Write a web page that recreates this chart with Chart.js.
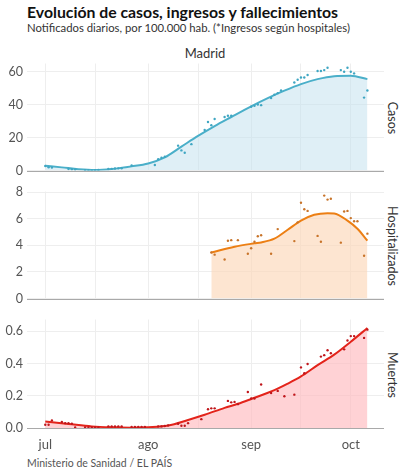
<!DOCTYPE html>
<html><head><meta charset="utf-8">
<script src="https://cdn.jsdelivr.net/npm/chart.js@4.4.1/dist/chart.umd.min.js"></script>
<style>
body{margin:0;background:#fff;width:414px;height:473px;position:relative;overflow:hidden;font-family:Lato,sans-serif}
.t{position:absolute;white-space:nowrap;line-height:1}
canvas{position:absolute;left:0}
.side{position:absolute;writing-mode:vertical-rl;font-size:12.5px;color:#333;transform:translate(-50%,-50%);line-height:1;white-space:nowrap}
</style></head><body>
<div class="t" style="left:27px;top:4px;font-weight:700;font-size:15.8px;color:#111">Evolución de casos, ingresos y fallecimientos</div>
<div class="t" style="left:27px;top:22px;font-size:11.3px;color:#333">Notificados diarios, por 100.000 hab. (*Ingresos según hospitales)</div>
<div class="t" style="left:205px;top:47px;font-size:13px;color:#333;transform:translateX(-50%)">Madrid</div>
<div class="side" style="left:392px;top:118px">Casos</div>
<div class="side" style="left:392px;top:246px">Hospitalizados</div>
<div class="side" style="left:392px;top:375px">Muertes</div>
<div class="t" style="left:27px;top:458px;font-size:10.5px;color:#555">Ministerio de Sanidad / EL PAÍS</div>
<canvas id="c1" width="414" height="130" style="top:52px"></canvas>
<canvas id="c2" width="414" height="130" style="top:180px"></canvas>
<canvas id="c3" width="414" height="150" style="top:308px"></canvas>
<script>
// ---- data ----
const monthLabels = ['jul','ago','sep','oct'];
const monthDates = ['2020-07-01','2020-08-01','2020-09-01','2020-10-01'];
const midMonthDates = ['2020-07-16','2020-08-16','2020-09-16'];

const casosDates = ['2020-07-01','2020-07-02','2020-07-03','2020-07-08','2020-07-09','2020-07-10','2020-07-13','2020-07-14','2020-07-15','2020-07-16','2020-07-17','2020-07-20','2020-07-21','2020-07-22','2020-07-23','2020-07-24','2020-07-27','2020-08-03','2020-08-04','2020-08-05','2020-08-06','2020-08-10','2020-08-11','2020-08-12','2020-08-14','2020-08-18','2020-08-19','2020-08-20','2020-08-21','2020-08-24','2020-08-25','2020-08-26','2020-09-01','2020-09-02','2020-09-03','2020-09-04','2020-09-07','2020-09-08','2020-09-09','2020-09-10','2020-09-14','2020-09-15','2020-09-16','2020-09-17','2020-09-18','2020-09-21','2020-09-22','2020-09-23','2020-09-24','2020-09-28','2020-09-29','2020-09-30','2020-10-01','2020-10-02','2020-10-05','2020-10-06'];
const casosValues = [2.7,1.9,1.8, 0.9,0.8,0.6, 0.2,0.2,0.1,0.2,0.3, 0.9,1.0,1.2,1.3,1.4, 3.0, 3.3,6.9,7.7,8.4, 15.1,12.2,10.8,16.0, 24.6,29.5,27.5,31.3, 32.5,33.3,33.3, 38.7,39.3,40.1,39.7, 44.0,46.0,47.0,48.6, 53.5,55.1,56.5,56.5,58.0, 60.4,60.4,61.0,62.4, 61.0,60.0,62.4,60.0,59.0, 44.3,48.6];
const casosTrendDates = ['2020-07-01','2020-07-06','2020-07-11','2020-07-16','2020-07-21','2020-07-27','2020-08-01','2020-08-06','2020-08-11','2020-08-16','2020-08-21','2020-08-26','2020-09-01','2020-09-06','2020-09-11','2020-09-16','2020-09-21','2020-09-26','2020-10-01','2020-10-06'];
const casosTrend = [2.9,1.9,0.8,0.3,0.9,2.5,4.3,8.0,14.5,21,27,32.5,39,44,48.5,52.5,55.5,57.3,57.6,55.5];

const hospDates = ['2020-08-20','2020-08-21','2020-08-24','2020-08-25','2020-08-26','2020-08-28','2020-08-31','2020-09-01','2020-09-02','2020-09-03','2020-09-04','2020-09-07','2020-09-09','2020-09-14','2020-09-15','2020-09-16','2020-09-17','2020-09-18','2020-09-21','2020-09-22','2020-09-23','2020-09-24','2020-09-25','2020-09-28','2020-09-29','2020-09-30','2020-10-01','2020-10-02','2020-10-03','2020-10-05','2020-10-06'];
const hospValues = [3.46,3.3,2.93,4.34,4.39,4.39,3.37,3.78,4.27,4.68,4.76,3.37,5.22,4.32,5.73,7.2,6.71,6.59,4.71,4.27,7.74,7.44,7.51,4.2,6.54,6.59,6.05,5.81,5.81,3.22,4.88];
const hospTrendDates = ['2020-08-20','2020-08-27','2020-09-02','2020-09-04','2020-09-08','2020-09-12','2020-09-16','2020-09-20','2020-09-24','2020-09-26','2020-09-30','2020-10-03','2020-10-06'];
const hospTrend = [3.46,3.9,4.15,4.22,4.5,5.17,5.86,6.3,6.42,6.4,5.86,5.25,4.35];

const muertesDates = ['2020-07-01','2020-07-02','2020-07-03','2020-07-06','2020-07-07','2020-07-08','2020-07-09','2020-07-10','2020-07-13','2020-07-14','2020-07-15','2020-07-16','2020-07-17','2020-07-20','2020-07-21','2020-07-22','2020-07-23','2020-07-24','2020-07-27','2020-07-28','2020-07-29','2020-07-30','2020-07-31','2020-08-04','2020-08-05','2020-08-06','2020-08-07','2020-08-10','2020-08-11','2020-08-12','2020-08-13','2020-08-17','2020-08-19','2020-08-20','2020-08-21','2020-08-25','2020-08-26','2020-08-27','2020-08-28','2020-08-31','2020-09-01','2020-09-02','2020-09-04','2020-09-07','2020-09-09','2020-09-11','2020-09-14','2020-09-16','2020-09-17','2020-09-18','2020-09-22','2020-09-23','2020-09-24','2020-09-25','2020-09-29','2020-09-30','2020-10-01','2020-10-02','2020-10-05','2020-10-06'];
const muertesValues = [0.02,0.02,0.047,0.037,0.03,0.03,0.026,0.003,0.004,0.004,0.004,0.004,0.004,0.01,0.01,0.01,0.01,0.01,0.006,0.006,0.006,0.006,0.006,0.01,0.01,0.012,0.016,0.026,0.014,0.014,0.03,0.055,0.116,0.122,0.122,0.168,0.159,0.162,0.148,0.223,0.183,0.183,0.27,0.217,0.23,0.197,0.207,0.376,0.34,0.397,0.443,0.452,0.482,0.464,0.488,0.543,0.57,0.57,0.559,0.61];
const muertesTrendDates = ['2020-07-01','2020-07-08','2020-07-15','2020-07-22','2020-07-27','2020-08-01','2020-08-07','2020-08-13','2020-08-18','2020-08-24','2020-08-28','2020-09-01','2020-09-08','2020-09-12','2020-09-16','2020-09-21','2020-09-26','2020-10-01','2020-10-06'];
const muertesTrend = [0.04,0.025,0.01,0.004,0.002,0.005,0.015,0.05,0.082,0.125,0.15,0.18,0.235,0.275,0.32,0.39,0.455,0.535,0.62];

const casosTicks = [0,20,40,60];
const hospTicks = [0,2,4,6,8];
const muertesTicks = [0,0.2,0.4,0.6];

// ---- helpers ----
function dayOf(s){const p=s.split('-').map(Number);return (Date.UTC(p[0],p[1]-1,p[2])-Date.UTC(2020,6,1))/864e5;}
const X_MIN = dayOf('2020-06-26') - 0.5, X_MAX = dayOf('2020-10-11');
const monthDays = monthDates.map(dayOf);
const gridDays = monthDays.concat(midMonthDates.map(dayOf)).sort((a,b)=>a-b);
function pts(dates, vals){return dates.map((d,i)=>({x:dayOf(d),y:vals[i]}));}

const baseline = {
  id:'baseline',
  afterDatasetsDraw(chart){
    const {ctx, chartArea, scales} = chart;
    const y = Math.round(scales.y.getPixelForValue(0)) + 0.5;
    ctx.save(); ctx.strokeStyle='#a9a9a9'; ctx.lineWidth=1;
    ctx.beginPath(); ctx.moveTo(chartArea.left,y); ctx.lineTo(chartArea.right,y); ctx.stroke(); ctx.restore();
  }
};

function panel(id, c){
  return new Chart(document.getElementById(id), {
    type:'scatter',
    data:{datasets:[
      {type:'line', data:pts(c.trendDates,c.trend), borderColor:c.line, backgroundColor:c.fill, fill:'origin', borderWidth:2, pointRadius:0, cubicInterpolationMode:'monotone', order:2},
      {type:'scatter', data:pts(c.dates,c.values), backgroundColor:c.pt, borderWidth:0, pointRadius:1.2, order:1}
    ]},
    options:{
      responsive:false, animation:false, events:[],
      layout:{padding:{top:10,bottom:c.padBottom,left:0,right:30}},
      plugins:{legend:{display:false},tooltip:{enabled:false}},
      scales:{
        x:{type:'linear', min:X_MIN, max:X_MAX,
          afterBuildTicks:s=>{s.ticks=gridDays.map(v=>({value:v}));},
          afterFit:s=>{s.height=c.xHeight;},
          grid:{color:'#eeeeee', drawTicks:false}, border:{display:false},
          ticks:{display:c.showX, autoSkip:false, maxRotation:0, padding:9, color:'#555', font:{family:'Lato',size:13},
            callback:v=>{const i=monthDays.indexOf(v);return i>=0?monthLabels[i]:'';}}
        },
        y:{min:0, max:c.max,
          afterBuildTicks:s=>{s.ticks=c.ticks.map(v=>({value:v}));},
          afterFit:s=>{s.width=27;},
          grid:{color:'#eeeeee', drawTicks:false}, border:{display:false},
          ticks:{padding:4, color:'#555', font:{family:'Lato',size:12.5}, callback:v=>c.fmt(v)}
        }
      }
    },
    plugins:[baseline]
  });
}

panel('c1',{dates:casosDates,values:casosValues,trendDates:casosTrendDates,trend:casosTrend,
  line:'#4aafc9',fill:'rgba(196,226,238,0.55)',pt:'#3fa6c2',max:65,ticks:casosTicks,fmt:v=>String(v),
  padBottom:10,xHeight:0,showX:false});
panel('c2',{dates:hospDates,values:hospValues,trendDates:hospTrendDates,trend:hospTrend,
  line:'#ec7f14',fill:'rgba(252,215,184,0.65)',pt:'#c8742a',max:8.05,ticks:hospTicks,fmt:v=>String(v),
  padBottom:10,xHeight:0,showX:false});
panel('c3',{dates:muertesDates,values:muertesValues,trendDates:muertesTrendDates,trend:muertesTrend,
  line:'#e3241b',fill:'rgba(255,186,190,0.65)',pt:'#c0161b',max:0.673,ticks:muertesTicks,fmt:v=>v.toFixed(1),
  padBottom:0,xHeight:30,showX:true});
</script>
</body></html>
